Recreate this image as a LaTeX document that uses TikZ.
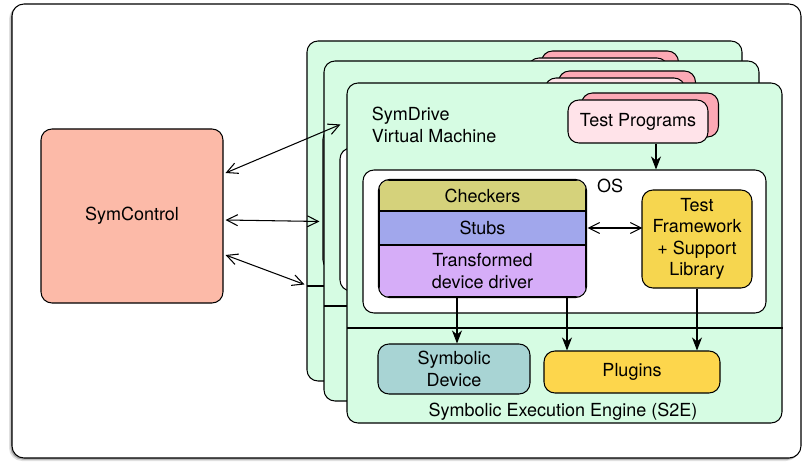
\documentclass[tikz,border=0pt]{standalone}
\usepackage{fontspec}
\setmainfont{TeX Gyre Heros}
\usetikzlibrary{arrows.meta,calc}
\definecolor{ctrlred}{HTML}{FCBAA8}
\definecolor{vmgreen}{HTML}{D6FCE3}
\definecolor{pinkfront}{HTML}{FFE3E9}
\definecolor{pinkback}{HTML}{FCA9B5}
\definecolor{chkcol}{HTML}{D5D27B}
\definecolor{stubcol}{HTML}{A1A7EC}
\definecolor{drvcol}{HTML}{D6ADF8}
\definecolor{fwcol}{HTML}{F6D64F}
\definecolor{devcol}{HTML}{A8D4D4}
\definecolor{plugcol}{HTML}{FDD64C}
\begin{document}
\begin{tikzpicture}[x=1pt,y=1pt,line width=1.05pt,font=\fontsize{18}{21.5}\selectfont,
	box/.style={draw,rounded corners=11pt,align=center,inner sep=0pt},
	layer/.style={draw,minimum width=207pt,inner sep=0pt,align=center},
	barb/.style={{Straight Barb[length=11pt,width=11pt]}-{Straight Barb[length=11pt,width=11pt]}},
	flow/.style={-{Stealth[length=13pt,width=10pt,inset=4pt]}}]
		\useasboundingbox (0,0) rectangle (803,461);
		\fill[black!12,rounded corners=13pt] (9,0) rectangle (799,455);
		\fill[black!35,rounded corners=12pt] (10.5,1.5) rectangle (800,456);
		\draw[fill=white,rounded corners=12pt] (12,3) rectangle (801,457);
		\node[box,fill=ctrlred,minimum width=182pt,minimum height=174pt] (sc) at (132,245) {SymControl};
		% three stacked virtual machines, the front one last
		\foreach \i/\dx/\dy in {1/-40/42,2/-23/22,3/0/0}{
		\begin{scope}[shift={(\dx,\dy)}]
			\node[box,fill=vmgreen,minimum width=435pt,minimum height=340pt] (vm\i) at (564.5,208) {};
			\coordinate (cutl\i) at (347,133);
			\draw (cutl\i) -- (cutl\i -| vm\i.east);
			\node[box,fill=pinkback,minimum width=137pt,minimum height=44pt] (tpback\i) at (650,346) {};
			\node[box,fill=pinkfront,minimum width=140pt,minimum height=43pt] (tp\i) at (638,339.5) {\ifnum\i=3 Test Programs\fi};
			\node[box,fill=white,minimum width=403pt,minimum height=143pt] (os\i) at (564.5,219.5) {};
		\end{scope}}
		\node[anchor=west,align=left] (vmname) at (368,336) {SymDrive\\Virtual Machine};
		\node (oslabel) at (610,275) {OS};
		\coordinate (tpout) at ([xshift=18pt]tp3.south);
		\draw[flow] (tpout) -- (tpout |- os3.north);
		\begin{scope}
			\clip[rounded corners=11pt] (379,164) rectangle (586,281);
			\node[layer,fill=chkcol,minimum height=31pt] (chk) at (482.5,265.5) {Checkers};
			\node[layer,fill=stubcol,minimum height=34pt] (stub) at (482.5,233) {Stubs};
			\node[layer,fill=drvcol,minimum height=52pt] (drv) at (482.5,190) {Transformed\\device driver};
		\end{scope}
		\draw[rounded corners=11pt] (chk.north west) rectangle (drv.south east);
		\node[box,fill=fwcol,minimum width=110pt,minimum height=98pt] (fw) at (697,222) {Test\\Framework\\+ Support\\Library};
		\draw[barb] ([xshift=1pt]stub.east) -- ([xshift=1pt]stub.east -| fw.west);
		\node[box,fill=devcol,minimum width=152pt,minimum height=50pt] (sd) at (454,92) {Symbolic\\Device};
		\node[box,fill=plugcol,minimum width=176pt,minimum height=42pt] (pl) at (632,89) {Plugins};
		\node (s2e) at (563,49) {Symbolic Execution Engine (S2E)};
		\coordinate (drvl) at ([xshift=-25.5pt]drv.south);
		\coordinate (drvr) at ([xshift=84.5pt]drv.south);
		\draw[flow] (drvl) -- (drvl |- sd.north);
		\draw[flow] (drvr) -- (drvr |- pl.north);
		\draw[flow] (fw.south) -- (fw.south |- pl.north);
		\draw[barb] ([xshift=2pt,yshift=43pt]sc.east) -- ($(vm3.north west)+(-6,-42)$);
		\draw[barb] ([xshift=2pt,yshift=-4pt]sc.east) -- ($(vm2.north west)+(-4,-161)$);
		\draw[barb] ([xshift=2pt,yshift=-39pt]sc.east) -- ($(vm1.north west)+(-2,-244)$);
\end{tikzpicture}
\end{document}
